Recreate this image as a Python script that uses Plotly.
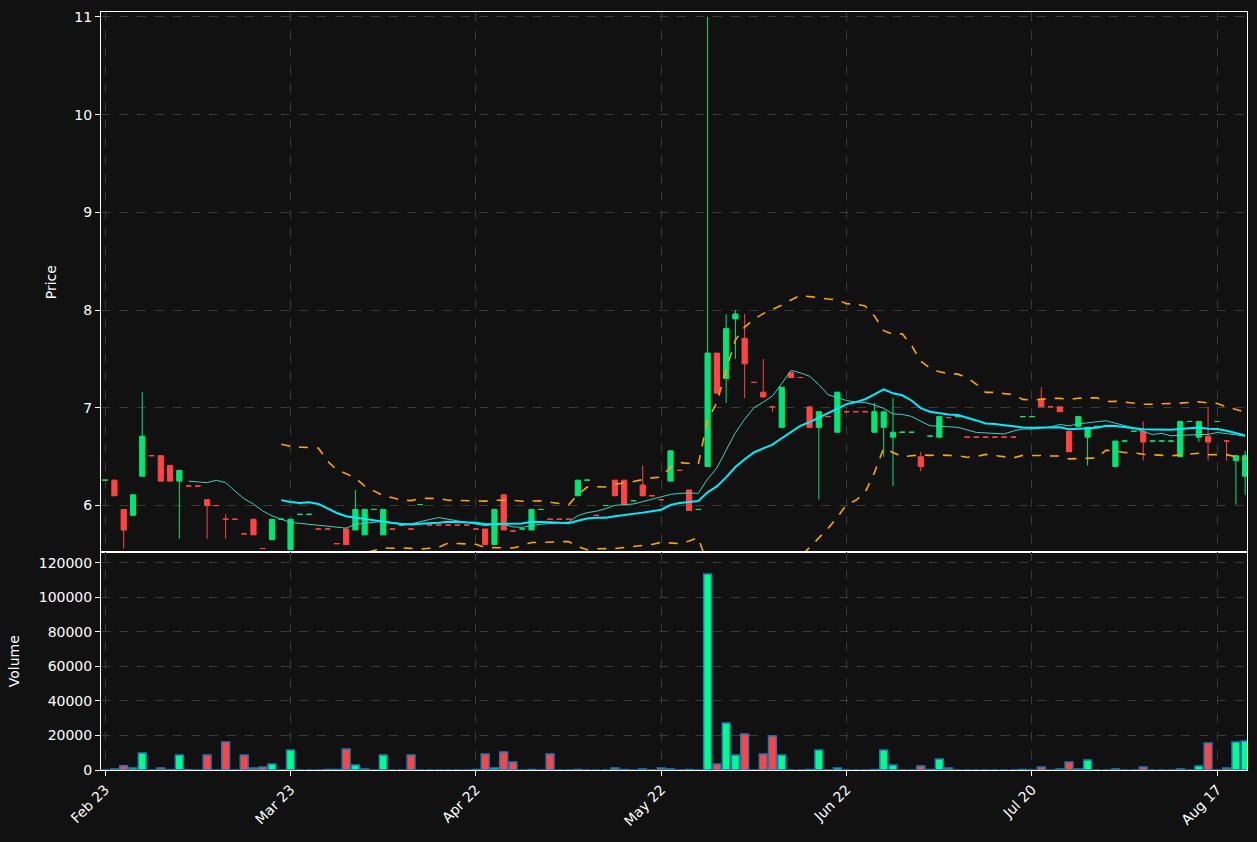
import numpy as np
import pandas as pd
import plotly.graph_objects as go
from plotly.subplots import make_subplots

# %% DATA (one entry per trading day)
N = None
closes = [6.26, 6.10, 5.75, 6.11, 6.71, 6.51, 6.25, 6.25, 6.36, 6.20,
          6.20, 6.00, 6.00, 5.86, 5.86, 5.71, 5.70, 5.56, 5.86, 5.86,
          5.86, 5.91, 5.91, 5.76, 5.76, 5.61, 5.60, 5.96, 5.96, 5.96,
          5.96, 5.76, 5.80, 5.76, 6.01, 5.80, 5.80, 5.80, 5.80, 5.80,
          5.76, 5.60, 5.96, 5.75, 5.74, 5.76, 5.96, 5.96, 5.86, 5.86,
          5.86, 6.26, 6.26, 5.90, 6.00, 6.10, 6.01, 6.05, 6.10, 6.10,
          6.06, 6.56, 6.36, 5.95, 5.96, 7.56, 7.15, 7.81, 7.96, 7.45,
          7.26, 7.11, 7.01, 7.21, 7.31, 7.31, 6.80, 6.96, 6.91, 7.16,
          6.96, 6.96, 6.96, 6.96, 6.96, 6.75, 6.75, 6.75, 6.40, 6.71,
          6.91, 6.90, 6.91, 6.70, 6.70, 6.70, 6.70, 6.70, 6.70, 6.91,
          6.91, 7.01, 7.01, 6.96, 6.55, 6.91, 6.80, 6.81, 6.81, 6.66,
          6.66, 6.76, 6.65, 6.66, 6.66, 6.66, 6.86, 6.86, 6.86, 6.65,
          6.86, 6.66, 6.51, 6.51]
# None = flat day (open equals close)
opens = [N, 6.26, 5.96, 5.90, 6.30, N, 6.51, 6.41, 6.25, N,
         N, 6.06, N, N, N, N, 5.86, N, 5.65, N,
         5.55, N, N, N, N, N, 5.76, 5.75, 5.70, N,
         5.70, N, N, N, N, N, N, N, N, N,
         N, 5.76, 5.60, 6.11, N, N, 5.75, N, N, N,
         N, 6.10, N, N, N, 6.26, 6.26, N, 6.21, N,
         N, 6.25, N, 6.16, N, 6.40, 7.56, 7.30, 7.91, 7.71,
         N, 7.16, N, 6.80, 7.36, N, 7.01, 6.80, N, 6.75,
         N, N, N, 6.75, 6.80, 6.70, N, N, 6.50, N,
         6.70, N, N, N, N, N, N, N, N, N,
         N, 7.09, N, 7.01, 6.76, 6.81, 6.70, N, N, 6.40,
         N, N, 6.76, N, N, N, 6.50, N, 6.70, 6.71,
         N, N, 6.46, 6.30]
high_wicks = {4: 7.16, 13: 5.91, 27: 6.16, 58: 6.41, 65: 11.0, 67: 7.96, 68: 8.0,
              69: 7.96, 71: 7.5, 83: 7.05, 85: 7.10, 88: 6.55, 101: 7.21,
              112: 6.86, 119: 7.01, 123: 6.56}
low_wicks = {2: 5.56, 8: 5.66, 11: 5.66, 13: 5.66, 67: 7.05, 68: 7.5, 69: 7.10,
             72: 6.96, 77: 6.06, 84: 6.50, 85: 6.20, 88: 6.35, 106: 6.41,
             112: 6.46, 118: 6.65, 119: 6.46, 121: 6.46, 122: 6.01, 123: 6.11}
volumes = {1: 600, 2: 2500, 3: 1200, 4: 9800, 6: 1200, 7: 200, 8: 8700, 9: 200,
           11: 8700, 13: 16200, 15: 8700, 16: 1200, 17: 1700, 18: 3500, 20: 11600,
           24: 300, 25: 300, 26: 12200, 27: 2900, 28: 600, 30: 8700, 33: 8700,
           40: 300, 41: 9300, 42: 1200, 43: 10400, 44: 4600, 46: 300, 48: 9300,
           51: 300, 55: 1200, 56: 300, 58: 600, 60: 1200, 61: 600, 63: 300,
           65: 113500, 66: 3500, 67: 27200, 68: 8700, 69: 20800, 71: 9300,
           72: 19700, 73: 8700, 76: 300, 77: 11600, 79: 1200, 83: 300, 84: 11600,
           85: 2900, 88: 2300, 89: 300, 90: 6400, 91: 1200, 99: 300, 101: 1700,
           103: 600, 104: 4600, 105: 600, 106: 5800, 109: 600, 112: 1700,
           116: 600, 118: 2300, 119: 15600, 121: 1200, 122: 16200, 123: 16800}
tick_days = [0, 20, 40, 60, 80, 100, 120]
tick_labels = ["Feb 23", "Mar 23", "Apr 22", "May 22", "Jun 22", "Jul 20", "Aug 17"]

# %% BUILD SERIES
n = len(closes)
x = np.arange(n)
o = [closes[i] if opens[i] is None else opens[i] for i in range(n)]
h = [high_wicks.get(i, max(o[i], closes[i])) for i in range(n)]
l = [low_wicks.get(i, min(o[i], closes[i])) for i in range(n)]
vol = [volumes.get(i, 0) for i in range(n)]

UP = "#00e676"
DOWN = "#ff4444"
vcol = []
for i in range(n):
    if o[i] != closes[i]:
        up = closes[i] > o[i]
    else:
        up = i > 0 and closes[i] >= closes[i - 1]
    vcol.append("#00ff88" if up else DOWN)

s = pd.Series(closes)
ma10 = s.rolling(10).mean()
ma20 = s.rolling(20).mean()
sd20 = s.rolling(20).std(ddof=0)
bb_up = ma20 + 2 * sd20
bb_lo = ma20 - 2 * sd20

# %% FIGURE
fig = make_subplots(rows=2, cols=1, shared_xaxes=True, vertical_spacing=0,
                    row_heights=[0.713, 0.287])
fig.add_trace(go.Candlestick(x=x, open=o, high=h, low=l, close=closes,
                             increasing=dict(line=dict(color=UP, width=1), fillcolor=UP),
                             decreasing=dict(line=dict(color=DOWN, width=1), fillcolor=DOWN),
                             whiskerwidth=0, showlegend=False), row=1, col=1)
fig.add_trace(go.Scatter(x=x, y=ma10, mode="lines", line=dict(color="#40d0c0", width=1),
                         showlegend=False), row=1, col=1)
fig.add_trace(go.Scatter(x=x, y=ma20, mode="lines", line=dict(color="#00eeff", width=2),
                         showlegend=False), row=1, col=1)
for band in (bb_up, bb_lo):
    fig.add_trace(go.Scatter(x=x, y=band, mode="lines",
                             line=dict(color="#ffa500", width=1.6, dash="dash"),
                             showlegend=False), row=1, col=1)
fig.add_trace(go.Bar(x=x, y=vol, marker=dict(color=vcol, line=dict(color="#1f77b4", width=1.5)),
                     width=0.85, showlegend=False), row=2, col=1)

axis_style = dict(showline=True, linecolor="white", linewidth=1, mirror=True,
                  gridcolor="#3a3a3a", griddash="dash", zeroline=False,
                  tickfont=dict(color="white", size=14), ticks="outside", tickcolor="white")
fig.update_xaxes(**axis_style, range=[-0.45, 123.2], tickvals=tick_days, ticktext=tick_labels,
                 rangeslider_visible=False)
fig.update_xaxes(tickangle=-45, row=2, col=1)
fig.update_yaxes(**axis_style, title_font_size=14)
fig.update_yaxes(range=[5.52, 11.05], dtick=1, title_text="Price", title_standoff=14, row=1, col=1)
fig.update_yaxes(range=[0, 126000], dtick=20000, tickformat="d", title_text="Volume", row=2, col=1)

fig.update_layout(
    width=1257, height=842,
    paper_bgcolor="#111111", plot_bgcolor="#111111",
    font=dict(family="DejaVu Sans", color="white", size=14),
    margin=dict(l=101, r=10, t=12, b=72),
    boxgap=0.2,
)
fig.write_html("out.html", config={"displayModeBar": False},
               post_script="document.body.style.margin='0';document.body.style.background='#111111';")
